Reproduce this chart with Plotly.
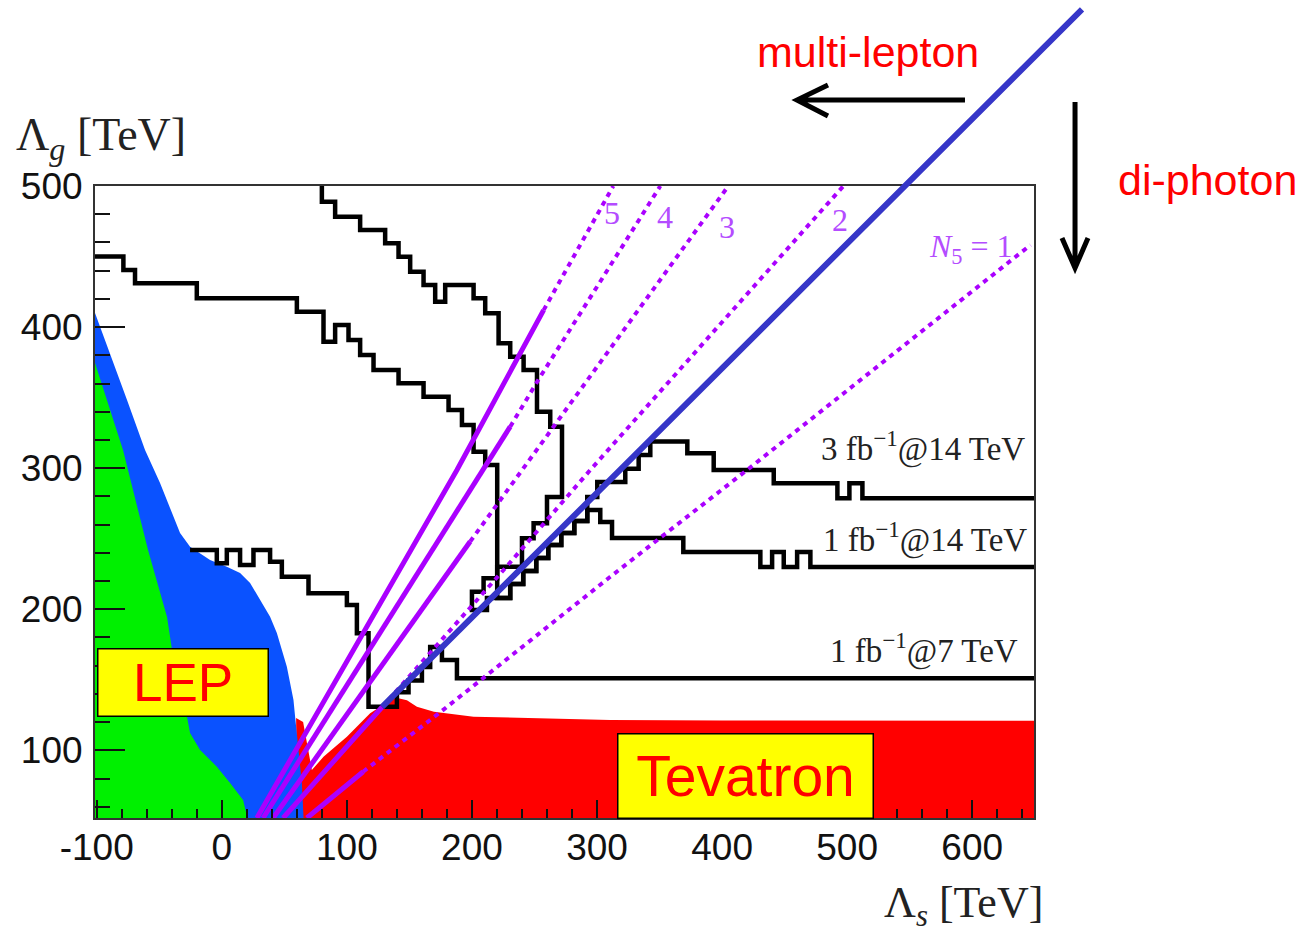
import plotly.graph_objects as go

# ---------------- axes (TeV) ----------------
X_RANGE = [-101.4, 649.4]
Y_RANGE = [52, 500]
X_TICKS = [-100, 0, 100, 200, 300, 400, 500, 600]
X_TICK_TEXT = ["-100", "0", "100", "200", "300", "400", "500", "600"]
Y_TICKS = [100, 200, 300, 400, 500]

# ---------------- LEP excluded regions ----------------
# outer (blue) boundary, from the left edge down to the floor
lep_outer_x = [-101.4, -75.8, -61.4, -49.4, -38.7, -33.4, -25.4, -9.4, 4.0, 14.6, 22.6,
               30.6, 38.6, 44.0, 48.0, 52.0, 54.6, 57.3, 58.6, 61.3, 64.0, 65.3, 65.4]
lep_outer_y = [410.0, 348.3, 312.9, 289.5, 265.6, 254.0, 244.3, 234.9, 230.1, 225.7, 218.6,
               206.5, 194.7, 183.1, 171.1, 159.3, 147.7, 135.6, 123.8, 100.2, 76.8, 52.9, 52.0]
# inner (green) boundary
lep_inner_x = [-101.4, -79.0, -59.0, -43.8, -39.8, -27.8, -25.4, -17.4, -3.8, 6.6, 17.0, 20.2, 21.0]
lep_inner_y = [374.5, 312.9, 241.9, 194.5, 171.1, 123.6, 112.2, 100.2, 88.2, 76.8, 64.8, 52.8, 52.0]

# ---------------- Tevatron excluded region (upper boundary) ----------------
tev_x = [60.0, 59.4, 65.0, 72.0, 81.3, 100.0, 118.6, 126.6, 137.0, 148.0, 156.0, 169.6,
         201.3, 262.6, 310.6, 400.0, 500.0, 649.4]
tev_y = [52.0, 122.9, 120.1, 86.0, 95.4, 109.6, 126.2, 130.9, 137.8, 135.5, 130.9, 127.4,
         123.8, 122.7, 121.4, 121.2, 121.3, 121.0]

# ---------------- LHC reach contours ----------------
reach7_x = [-25.4, -4, -4, 4, 4, 14.6, 14.6, 25.3, 25.3, 38.6, 38.6, 48, 48, 69.3, 69.3,
            100, 100, 108, 108, 117.3, 117.3, 140, 140, 149.3, 149.3, 160, 160, 166.6,
            166.6, 176, 176, 188, 188, 660]
reach7_y = [242, 242, 232.5, 232.5, 242, 242, 231.3, 231.3, 242, 242, 233.7, 233.7, 223, 223,
            211.3, 211.3, 203, 203, 182.9, 182.9, 130.9, 130.9, 141.2, 141.2, 149.5, 149.5,
            159, 159, 173.2, 173.2, 164, 164, 151, 151]

reach14a_x = [-101.4, -78.7, -78.7, -69.4, -69.4, -20, -20, 60, 60, 81.3, 81.3, 90.6, 90.6,
              101.3, 101.3, 110.6, 110.6, 121.3, 121.3, 141.3, 141.3, 161.3, 161.3, 181.3,
              181.3, 192, 192, 201.3, 201.3, 210.6, 210.6, 220.2, 220.2, 230.6, 230.6, 241,
              241, 251.4, 251.4, 261, 261, 271.4, 271.4, 281.8, 281.8, 292.2, 292.2, 302.6,
              302.6, 312, 312, 369, 369, 430.6, 430.6, 440, 440, 449.3, 449.3, 460, 460,
              470.6, 470.6, 660]
reach14a_y = [450, 450, 440.5, 440.5, 431, 431, 420.4, 420.4, 410.9, 410.9, 389.6, 389.6,
              401.5, 401.5, 390.8, 390.8, 380.2, 380.2, 369.6, 369.6, 360.1, 360.1, 350.6,
              350.6, 341.2, 341.2, 330.6, 330.6, 311.7, 311.7, 302.2, 302.2, 207.9, 207.9,
              217.9, 217.9, 227.1, 227.1, 236.3, 236.3, 245.5, 245.5, 254, 254, 262.5, 262.5,
              270.3, 270.3, 261.8, 261.8, 250.5, 250.5, 240.6, 240.6, 230, 230, 240.6, 240.6,
              230, 230, 240.6, 240.6, 230, 230]

reach14b_x = [80, 80, 90.6, 90.6, 110.6, 110.6, 130.6, 130.6, 141.3, 141.3, 150.6, 150.6,
              161.3, 161.3, 170.6, 170.6, 178.6, 178.6, 201.3, 201.3, 210.6, 210.6, 221.3,
              221.3, 230.6, 230.6, 241.3, 241.3, 252, 252, 262.6, 262.6, 272, 272, 260, 260,
              249.3, 249.3, 240, 240, 220.2, 220.2, 209.3, 209.3, 200, 200, 212, 212, 230.6,
              230.6, 241, 241, 251.4, 251.4, 261, 261, 271.4, 271.4, 281.8, 281.8, 292.2,
              292.2, 300.2, 300.2, 322.6, 322.6, 333.3, 333.3, 342.6, 342.6, 372.2, 372.2,
              393.3, 393.3, 441.3, 441.3, 492.2, 492.2, 501.8, 501.8, 512.2, 512.2, 660]
reach14b_y = [500, 488.9, 488.9, 478.2, 478.2, 468.8, 468.8, 459.4, 459.4, 449.9, 449.9,
              439.3, 439.3, 429.8, 429.8, 418, 418, 429.8, 429.8, 420.4, 420.4, 409.8, 409.8,
              388.5, 388.5, 379, 379, 369.6, 369.6, 340, 340, 329.4, 329.4, 279.5, 279.5,
              260.9, 260.9, 250.3, 250.3, 230.1, 230.1, 221.9, 221.9, 212.4, 212.4, 199.4,
              199.4, 207.9, 207.9, 217.9, 217.9, 227.1, 227.1, 236.3, 236.3, 245.5, 245.5,
              254, 254, 262.5, 262.5, 279.5, 279.5, 290.2, 290.2, 299.6, 299.6, 309.3, 309.3,
              318.8, 318.8, 310.5, 310.5, 298.7, 298.7, 289.3, 289.3, 278.6, 278.6, 289.3,
              289.3, 278.6, 278.6]

# ---------------- constant-N5 lines (solid, then dotted) ----------------
n5_5_solid_x = [28, 188, 257.3]
n5_5_solid_y = [52, 298.7, 412]
n5_5_dot_x = [257.3, 281, 313]
n5_5_dot_y = [412, 450, 500]

n5_4_solid_x = [33, 208, 230.6]
n5_4_solid_y = [52, 298.7, 329.4]
n5_4_dot_x = [230.6, 253, 300, 350.6]
n5_4_dot_y = [329.4, 362.5, 428.6, 500]

n5_3_solid_x = [41, 198.6]
n5_3_solid_y = [52, 248]
n5_3_dot_x = [198.6, 265, 405]
n5_3_dot_y = [248, 329.4, 500]

n5_2_solid_x = [49, 128.2]
n5_2_solid_y = [52, 130.7]
n5_2_dot_x = [128.2, 225.3, 294.6, 497]
n5_2_dot_y = [130.7, 227.8, 298.7, 500]

n5_1_solid_x = [68, 113]
n5_1_solid_y = [52, 84.8]
n5_1_dot_x = [113, 177, 310.6, 420, 646.6]
n5_1_dot_y = [84.8, 128.6, 223, 298.7, 458.2]

# multi-lepton / di-photon dividing line (start, end)
split_x = [128.2, 689.0]
split_y = [130.7, 626.2]

# ---------------- styles ----------------
BLUE_FILL = "#0a52ff"
GREEN_FILL = "#00f000"
RED_FILL = "#ff0000"
PURPLE = "#aa00ff"
PURPLE_TXT = "#b44cff"
SPLIT_BLUE = "#3636c8"
FLOOR = Y_RANGE[0] - 6

fig = go.Figure()


def region(xs, ys, color, right_pad=0.0):
    px = [xs[0]] + list(xs) + [xs[-1] + right_pad, xs[-1] + right_pad]
    py = [FLOOR] + list(ys) + [ys[-1], FLOOR]
    fig.add_trace(go.Scatter(x=px, y=py, mode="lines", fill="toself", fillcolor=color,
                             line=dict(width=0, color=color), hoverinfo="skip"))


region(tev_x, tev_y, RED_FILL, right_pad=10)
region(lep_outer_x, lep_outer_y, BLUE_FILL)
region(lep_inner_x, lep_inner_y, GREEN_FILL)

for cx, cy in [(reach7_x, reach7_y), (reach14a_x, reach14a_y), (reach14b_x, reach14b_y)]:
    fig.add_trace(go.Scatter(x=cx, y=cy, mode="lines",
                             line=dict(color="black", width=4.5), hoverinfo="skip"))

for sx, sy, dx, dy in [
    (n5_5_solid_x, n5_5_solid_y, n5_5_dot_x, n5_5_dot_y),
    (n5_4_solid_x, n5_4_solid_y, n5_4_dot_x, n5_4_dot_y),
    (n5_3_solid_x, n5_3_solid_y, n5_3_dot_x, n5_3_dot_y),
    (n5_2_solid_x, n5_2_solid_y, n5_2_dot_x, n5_2_dot_y),
    (n5_1_solid_x, n5_1_solid_y, n5_1_dot_x, n5_1_dot_y),
]:
    fig.add_trace(go.Scatter(x=dx, y=dy, mode="lines",
                             line=dict(color=PURPLE, width=4, dash="5px,5px"), hoverinfo="skip"))
    fig.add_trace(go.Scatter(x=sx, y=sy, mode="lines",
                             line=dict(color=PURPLE, width=5), hoverinfo="skip"))

SERIF = "Liberation Serif"
SANS = "Liberation Sans"
ann = []

# dividing line, drawn past the frame
ann.append(dict(x=split_x[0], y=split_y[0], ax=split_x[1], ay=split_y[1],
                xref="x", yref="y", axref="x", ayref="y", text="", showarrow=True,
                arrowhead=0, arrowwidth=6, arrowcolor=SPLIT_BLUE, standoff=0, startstandoff=0))

# luminosity labels
for txt, lx, ly in [("3 fb<sup>−1</sup>@14 TeV", 643.5, 315.0),
                    ("1 fb<sup>−1</sup>@14 TeV", 645.0, 250.5),
                    ("1 fb<sup>−1</sup>@7 TeV", 638.0, 172.5)]:
    ann.append(dict(x=lx, y=ly, xref="x", yref="y", text=txt, showarrow=False,
                    xanchor="right", yanchor="middle",
                    font=dict(family=SERIF, size=33, color="#222222")))

# N5 labels
for txt, lx, ly, xa in [("5", 312.2, 480.9, "center"), ("4", 354.6, 478.0, "center"),
                        ("3", 404.2, 470.9, "center"), ("2", 494.6, 475.9, "center"),
                        ("<i>N</i><sub>5</sub> = 1", 634.5, 456.0, "right")]:
    ann.append(dict(x=lx, y=ly, xref="x", yref="y", text=txt, showarrow=False,
                    xanchor=xa, yanchor="middle",
                    font=dict(family=SERIF, size=32, color=PURPLE_TXT)))

# experiment boxes
ann.append(dict(x=-31.1, y=148.0, xref="x", yref="y", text="LEP", showarrow=False,
                width=169, height=66, bgcolor="#ffff00", bordercolor="black",
                borderwidth=1.5, borderpad=0,
                font=dict(family=SANS, size=53, color="#ff0000")))
ann.append(dict(x=419.0, y=81.9, xref="x", yref="y", text="Tevatron", showarrow=False,
                width=254, height=83, bgcolor="#ffff00", bordercolor="black",
                borderwidth=1.5, borderpad=0,
                font=dict(family=SANS, size=57, color="#ff0000")))

# channel labels
ann.append(dict(x=0.8232, y=1.212, xref="paper", yref="paper", text="multi-lepton",
                showarrow=False, xanchor="center", yanchor="middle",
                font=dict(family=SANS, size=43, color="#ff0000")))
ann.append(dict(x=1.1853, y=1.0095, xref="paper", yref="paper", text="di-photon",
                showarrow=False, xanchor="center", yanchor="middle",
                font=dict(family=SANS, size=43, color="#ff0000")))

# axis titles
ann.append(dict(x=-0.0862, y=1.0760, xref="paper", yref="paper",
                text="Λ<sub><i>g</i></sub> [TeV]", showarrow=False,
                xanchor="left", yanchor="middle",
                font=dict(family=SERIF, size=46, color="#222222")))
ann.append(dict(x=1.0117, y=-0.1380, xref="paper", yref="paper",
                text="Λ<sub><i>s</i></sub> [TeV]", showarrow=False,
                xanchor="right", yanchor="middle",
                font=dict(family=SERIF, size=44, color="#222222")))

# channel arrows
shapes = [
    dict(type="path", xref="paper", yref="paper",
         path="M 0.9265,1.1361 L 0.7476,1.1361 M 0.7806,1.1598 L 0.7476,1.1361 L 0.7806,1.1108",
         line=dict(color="black", width=5)),
    dict(type="path", xref="paper", yref="paper",
         path="M 1.0437,1.1329 L 1.0437,0.8703 M 1.0298,0.9177 L 1.0437,0.8703 L 1.0575,0.9177",
         line=dict(color="black", width=5)),
]

fig.update_layout(
    width=1311, height=934, autosize=False,
    margin=dict(l=95, r=277, t=186, b=116),
    paper_bgcolor="white", plot_bgcolor="white",
    showlegend=False, annotations=ann, shapes=shapes,
    xaxis=dict(range=X_RANGE, tickvals=X_TICKS, ticktext=X_TICK_TEXT,
               ticks="inside", ticklen=18, tickwidth=1.5, tickcolor="#111111",
               minor=dict(dtick=20, tick0=0, ticks="inside", ticklen=9,
                          tickwidth=1.5, tickcolor="#111111"),
               showline=True, linecolor="#333333", linewidth=2, mirror=True,
               showgrid=False, zeroline=False, ticklabelstandoff=-4,
               tickfont=dict(family=SANS, size=37, color="#111111")),
    yaxis=dict(range=Y_RANGE, tickvals=Y_TICKS,
               ticks="inside", ticklen=30, tickwidth=1.5, tickcolor="#111111",
               minor=dict(dtick=20, tick0=0, ticks="inside", ticklen=15,
                          tickwidth=1.5, tickcolor="#111111"),
               showline=True, linecolor="#333333", linewidth=2, mirror=True,
               showgrid=False, zeroline=False, ticklabelstandoff=3,
               tickfont=dict(family=SANS, size=37, color="#111111")),
)

fig.write_html("out.html")
